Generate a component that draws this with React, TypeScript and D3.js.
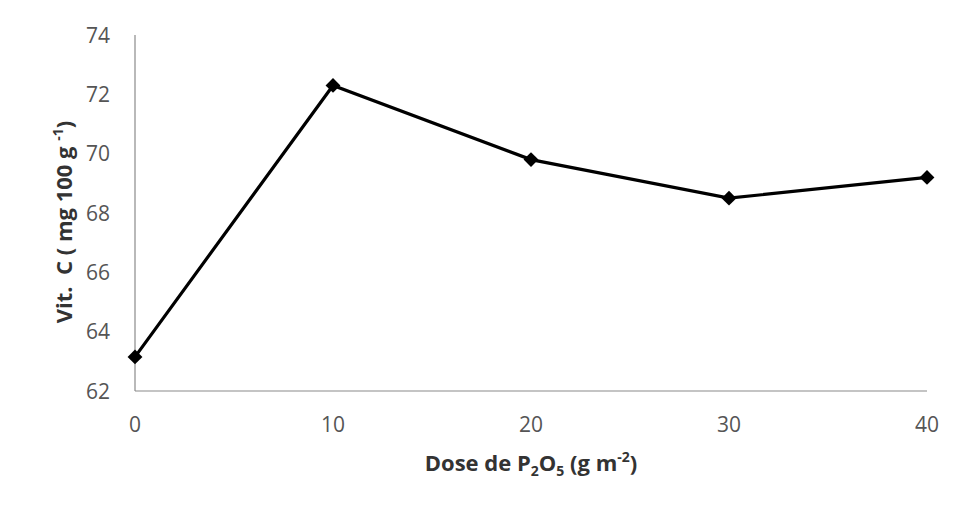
import React from "react";
import * as d3 from "d3";

const doses = [0, 10, 20, 30, 40];
const vitC = [63.15, 72.3, 69.8, 68.5, 69.2];
const yTicks = [62, 64, 66, 68, 70, 72, 74];
const xTicks = [0, 10, 20, 30, 40];

const W = 958;
const H = 526;
const m = { left: 135, right: 927, top: 35, bottom: 391 };

export default function App() {
  const x = d3.scaleLinear().domain([0, 40]).range([m.left, m.right]);
  const y = d3.scaleLinear().domain([62, 74]).range([m.bottom, m.top]);
  const line = d3
    .line<number>()
    .x((_, i) => x(doses[i]))
    .y((d) => y(d));
  const diamond = d3.symbol().type(d3.symbolSquare).size(110)() as string;
  const font = "'Open Sans', Lato, sans-serif";
  return (
    <svg
      width={W}
      height={H}
      style={{ position: "absolute", left: 0, top: 0, background: "#fff" }}
      fontFamily={font}
    >
      <line x1={m.left} x2={m.left} y1={m.top} y2={m.bottom} stroke="#8a8a8a" strokeWidth={1.2} />
      <line x1={m.left} x2={m.right} y1={m.bottom} y2={m.bottom} stroke="#8a8a8a" strokeWidth={1.2} />
      {yTicks.map((t) => (
        <text key={t} x={110} y={y(t)} dy="0.36em" textAnchor="end" fontSize={21} fill="#555">
          {t}
        </text>
      ))}
      {xTicks.map((t) => (
        <text key={t} x={x(t)} y={432} textAnchor="middle" fontSize={21} fill="#555">
          {t}
        </text>
      ))}
      <path d={line(vitC) as string} fill="none" stroke="#000" strokeWidth={3.2} />
      {vitC.map((v, i) => (
        <path
          key={i}
          d={diamond}
          transform={`translate(${x(doses[i])},${y(v)}) rotate(45)`}
          fill="#000"
        />
      ))}
      <text
        transform={`translate(72,222) rotate(-90)`}
        textAnchor="middle"
        fontSize={22}
        fontWeight="bold"
        fill="#333"
      >
        {"Vit.\u00a0\u00a0C ( mg 100 g "}
        <tspan fontSize={14} dy={-9}>-1</tspan>
        <tspan dy={9}>)</tspan>
      </text>
      <text x={531} y={471} textAnchor="middle" fontSize={22} fontWeight="bold" fill="#333">
        Dose de P<tspan fontSize={14} dy={5}>2</tspan>
        <tspan dy={-5}>O</tspan>
        <tspan fontSize={14} dy={5}>5</tspan>
        <tspan dy={-5}> (g m</tspan>
        <tspan fontSize={14} dy={-9}>-2</tspan>
        <tspan dy={9}>)</tspan>
      </text>
    </svg>
  );
}
